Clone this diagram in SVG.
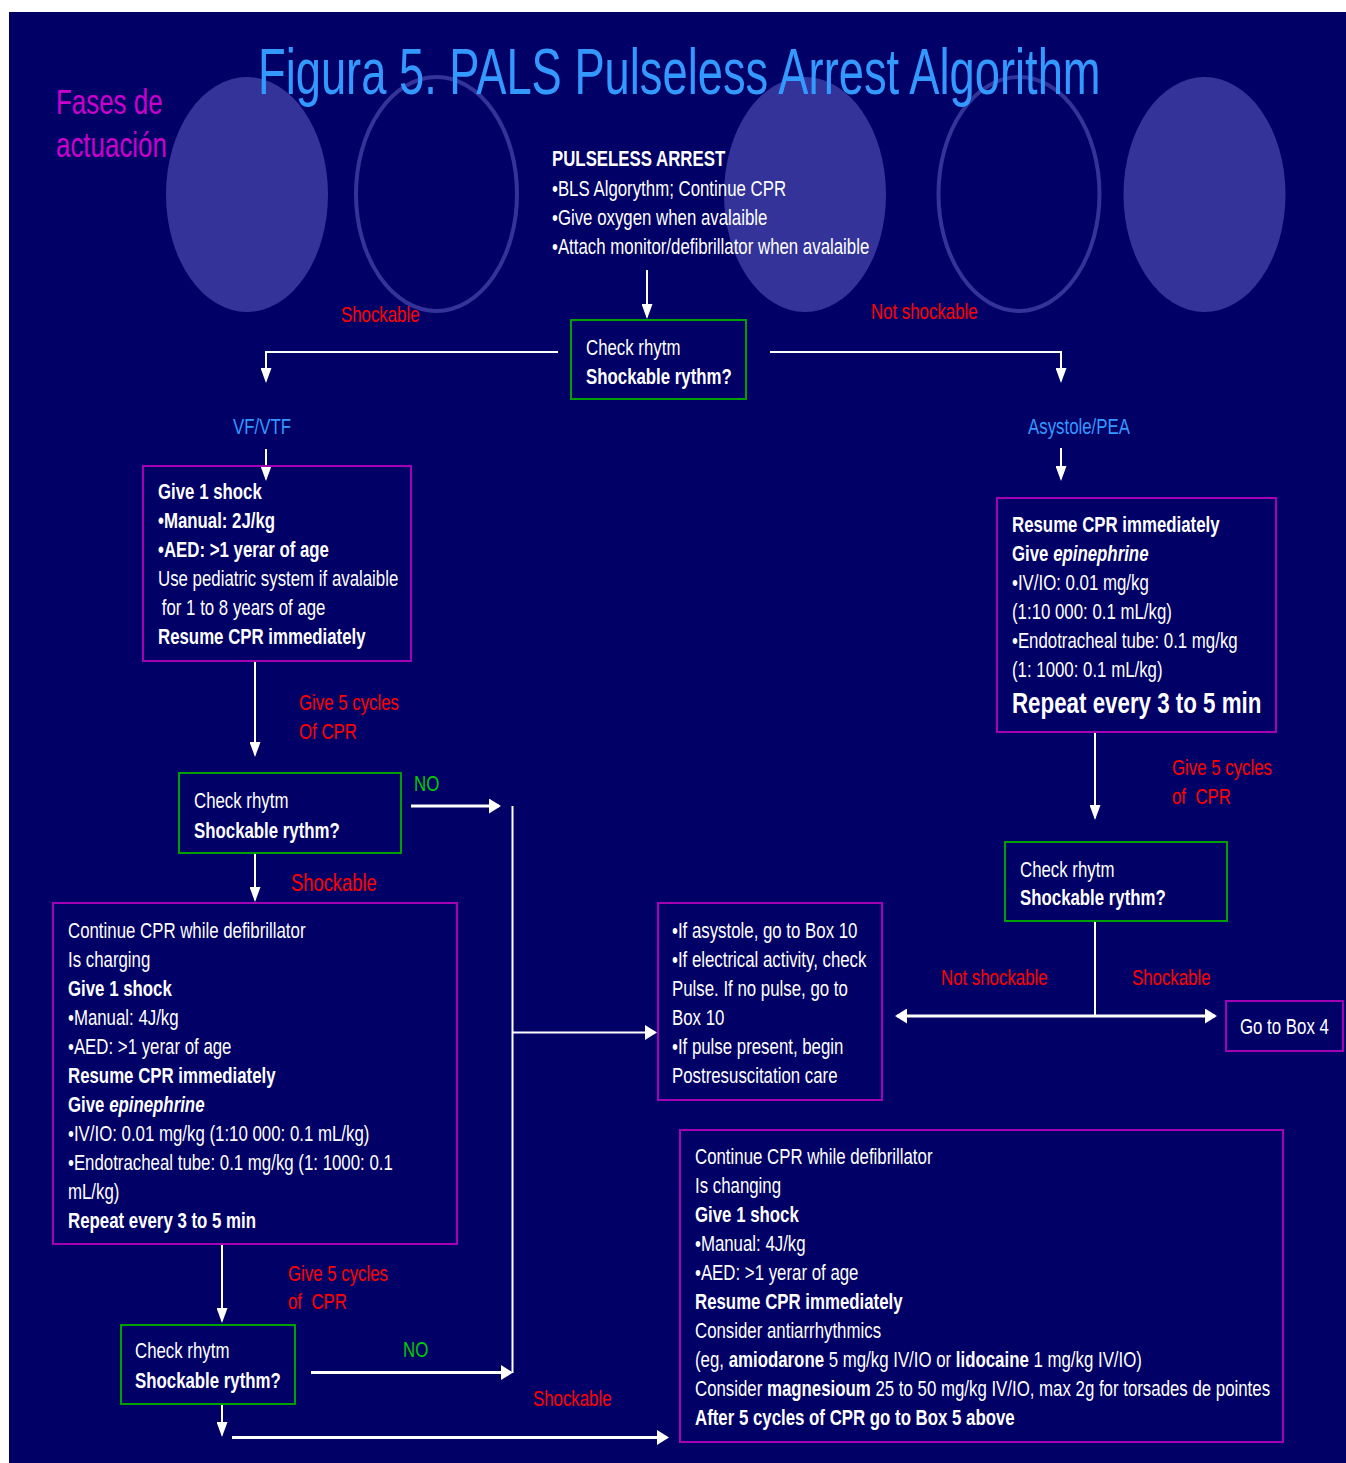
<svg xmlns="http://www.w3.org/2000/svg" width="1346" height="1463" viewBox="0 0 1346 1463">
  <style>
    .t { font-family: "Liberation Sans", Arial, sans-serif; font-size: 22px; fill: #ffffff; }
    .b { font-weight: bold; }
    .i { font-style: italic; }
    .red { fill: #ff0000; }
    .blue { fill: #3399ff; }
    .grn { fill: #00cc00; }
    .box { fill: none; stroke: #a400b4; stroke-width: 2; }
    .chk { fill: none; stroke: #00a000; stroke-width: 2; }
    .ln { fill: none; stroke: #ffffff; stroke-width: 2; }
    .lnb { fill: none; stroke: #ffffff; stroke-width: 3; }
    .phase { fill: #333399; }
    .phase-ring { fill: none; stroke: #333399; stroke-width: 4; }
  </style>
  <defs>
    <marker id="head" markerUnits="userSpaceOnUse" viewBox="0 0 15 11" markerWidth="15" markerHeight="11" refX="13" refY="5.5" orient="auto-start-reverse">
      <path d="M0,0 L15,5.5 L0,11 z" fill="#ffffff"/>
    </marker>
    <marker id="headB" markerUnits="userSpaceOnUse" viewBox="0 0 12 15" markerWidth="12" markerHeight="15" refX="10" refY="7.5" orient="auto-start-reverse">
      <path d="M0,0 L12,7.5 L0,15 z" fill="#ffffff"/>
    </marker>
  </defs>

  <!-- slide background -->
  <rect x="0" y="0" width="1346" height="1463" fill="#ffffff"/>
  <rect x="9" y="12" width="1337" height="1451" fill="#000066"/>

  <!-- phase markers -->
  <g id="phases">
    <ellipse class="phase" cx="247" cy="194.5" rx="81" ry="117.5"/>
    <ellipse class="phase-ring" cx="436.5" cy="194" rx="80.5" ry="117"/>
    <ellipse class="phase" cx="805" cy="194.5" rx="81" ry="117.5"/>
    <ellipse class="phase-ring" cx="1019" cy="194" rx="80.5" ry="117"/>
    <ellipse class="phase" cx="1204.5" cy="194.5" rx="81" ry="117.5"/>
  </g>

  <!-- heading -->
  <g id="title">
    <text class="t blue" transform="translate(258,94) scale(0.697,1)" style="font-size:65px">Figura 5. PALS Pulseless Arrest Algorithm</text>
  </g>
  <g id="phase-label">
    <text class="t" transform="translate(56,114) scale(0.72,1)" style="font-size:36px;fill:#cc00cc">
      <tspan x="0" y="0">Fases de</tspan>
      <tspan x="0" y="43">actuación</tspan>
    </text>
  </g>

  <!-- connectors -->
  <g id="connectors">
    <line class="ln" x1="647" y1="270" x2="647" y2="317" marker-end="url(#head)"/>
    <polyline class="ln" points="558,352 266,352 266,381" marker-end="url(#head)"/>
    <polyline class="ln" points="770,352 1061,352 1061,381" marker-end="url(#head)"/>
    <line class="ln" x1="266" y1="449" x2="266" y2="479" marker-end="url(#head)"/>
    <line class="ln" x1="1061" y1="448" x2="1061" y2="479" marker-end="url(#head)"/>
    <line class="ln" x1="255" y1="661" x2="255" y2="755" marker-end="url(#head)"/>
    <line class="ln" x1="1095" y1="732" x2="1095" y2="818" marker-end="url(#head)"/>
    <line class="ln" x1="255" y1="853" x2="255" y2="900" marker-end="url(#head)"/>
    <line class="lnb" x1="411" y1="806" x2="499" y2="806" marker-end="url(#headB)"/>
    <line class="ln" x1="512.5" y1="806" x2="512.5" y2="1373"/>
    <line class="ln" x1="512" y1="1032.5" x2="655" y2="1032.5" marker-end="url(#headB)"/>
    <line class="ln" x1="1095" y1="921" x2="1095" y2="1016"/>
    <line class="lnb" x1="897" y1="1016" x2="1215" y2="1016" marker-start="url(#headB)" marker-end="url(#headB)"/>
    <line class="ln" x1="222" y1="1244" x2="222" y2="1321" marker-end="url(#head)"/>
    <line class="lnb" x1="311" y1="1372.5" x2="511" y2="1372.5" marker-end="url(#headB)"/>
    <line class="ln" x1="222" y1="1404" x2="222" y2="1435" marker-end="url(#head)"/>
    <line class="lnb" x1="232" y1="1437.5" x2="667" y2="1437.5" marker-end="url(#headB)"/>
  </g>

  <!-- connector labels -->
  <g id="labels">
    <text class="t red" transform="translate(341,322) scale(0.765,1)">Shockable</text>
    <text class="t red" transform="translate(871,319) scale(0.765,1)">Not shockable</text>
    <text class="t blue" transform="translate(233,434) scale(0.765,1)">VF/VTF</text>
    <text class="t blue" transform="translate(1028,434) scale(0.765,1)">Asystole/PEA</text>
    <text class="t red" transform="translate(299,710) scale(0.765,1)"><tspan x="0" y="0">Give 5 cycles</tspan><tspan x="0" y="29">Of CPR</tspan></text>
    <text class="t red" transform="translate(1172,775) scale(0.765,1)"><tspan x="0" y="0">Give 5 cycles</tspan><tspan x="0" y="29">of&#160; CPR</tspan></text>
    <text class="t grn" transform="translate(414,791) scale(0.765,1)">NO</text>
    <text class="t red" transform="translate(291,891) scale(0.765,1)" style="font-size:24px">Shockable</text>
    <text class="t red" transform="translate(941,985) scale(0.765,1)">Not shockable</text>
    <text class="t red" transform="translate(1132,985) scale(0.765,1)">Shockable</text>
    <text class="t red" transform="translate(288,1281) scale(0.765,1)"><tspan x="0" y="0">Give 5 cycles</tspan><tspan x="0" y="28">of&#160; CPR</tspan></text>
    <text class="t grn" transform="translate(403,1357) scale(0.765,1)">NO</text>
    <text class="t red" transform="translate(533,1406) scale(0.765,1)">Shockable</text>
  </g>

  <!-- start: pulseless arrest -->
  <g id="pulseless-arrest">
    <text class="t" transform="translate(552,166) scale(0.765,1)">
      <tspan x="0" y="0" class="b">PULSELESS ARREST</tspan>
      <tspan x="0" y="30">•BLS Algorythm; Continue CPR</tspan>
      <tspan x="0" y="59">•Give oxygen when avalaible</tspan>
      <tspan x="0" y="88">•Attach monitor/defibrillator when avalaible</tspan>
    </text>
  </g>

  <g id="check-rhythm-1">
    <rect class="chk" x="571" y="320" width="175" height="79"/>
    <text class="t" transform="translate(586,355) scale(0.765,1)">
      <tspan x="0" y="0">Check rhytm</tspan>
      <tspan x="0" y="29" class="b">Shockable rythm?</tspan>
    </text>
  </g>

  <g id="give-shock-1">
    <rect class="box" x="143" y="466" width="268" height="195"/>
    <text class="t" transform="translate(158,499) scale(0.765,1)">
      <tspan x="0" y="0" class="b">Give 1 shock</tspan>
      <tspan x="0" y="29" class="b">•Manual: 2J/kg</tspan>
      <tspan x="0" y="58" class="b">•AED: &gt;1 yerar of age</tspan>
      <tspan x="0" y="87">Use pediatric system if avalaible</tspan>
      <tspan x="5" y="116">for 1 to 8 years of age</tspan>
      <tspan x="0" y="145" class="b">Resume CPR immediately</tspan>
    </text>
  </g>

  <g id="epinephrine-asystole">
    <rect class="box" x="997" y="498" width="279" height="234"/>
    <text class="t" transform="translate(1012,532) scale(0.765,1)">
      <tspan x="0" y="0" class="b">Resume CPR immediately</tspan>
      <tspan x="0" y="29" class="b">Give <tspan class="i">epinephrine</tspan></tspan>
      <tspan x="0" y="58">•IV/IO: 0.01 mg/kg</tspan>
      <tspan x="0" y="87">(1:10 000: 0.1 mL/kg)</tspan>
      <tspan x="0" y="116">•Endotracheal tube: 0.1 mg/kg</tspan>
      <tspan x="0" y="145">(1: 1000: 0.1 mL/kg)</tspan>
    </text>
    <text class="t b" transform="translate(1012,713) scale(0.77,1)" style="font-size:29px">Repeat every 3 to 5 min</text>
  </g>

  <g id="check-rhythm-2">
    <rect class="chk" x="179" y="773" width="222" height="80"/>
    <text class="t" transform="translate(194,808) scale(0.765,1)">
      <tspan x="0" y="0">Check rhytm</tspan>
      <tspan x="0" y="30" class="b">Shockable rythm?</tspan>
    </text>
  </g>

  <g id="check-rhythm-right">
    <rect class="chk" x="1005" y="842" width="222" height="79"/>
    <text class="t" transform="translate(1020,877) scale(0.765,1)">
      <tspan x="0" y="0">Check rhytm</tspan>
      <tspan x="0" y="28" class="b">Shockable rythm?</tspan>
    </text>
  </g>

  <g id="give-shock-2">
    <rect class="box" x="53" y="903" width="404" height="341"/>
    <text class="t" transform="translate(68,938) scale(0.765,1)">
      <tspan x="0" y="0">Continue CPR while defibrillator</tspan>
      <tspan x="0" y="29">Is charging</tspan>
      <tspan x="0" y="58" class="b">Give 1 shock</tspan>
      <tspan x="0" y="87">•Manual: 4J/kg</tspan>
      <tspan x="0" y="116">•AED: &gt;1 yerar of age</tspan>
      <tspan x="0" y="145" class="b">Resume CPR immediately</tspan>
      <tspan x="0" y="174" class="b">Give <tspan class="i">epinephrine</tspan></tspan>
      <tspan x="0" y="203">•IV/IO: 0.01 mg/kg (1:10 000: 0.1 mL/kg)</tspan>
      <tspan x="0" y="232">•Endotracheal tube: 0.1 mg/kg (1: 1000: 0.1</tspan>
      <tspan x="0" y="261">mL/kg)</tspan>
      <tspan x="0" y="290" class="b">Repeat every 3 to 5 min</tspan>
    </text>
  </g>

  <g id="asystole-pea-actions">
    <rect class="box" x="658" y="903" width="224" height="197"/>
    <text class="t" transform="translate(672,938) scale(0.765,1)">
      <tspan x="0" y="0">•If asystole, go to Box 10</tspan>
      <tspan x="0" y="29">•If electrical activity, check</tspan>
      <tspan x="0" y="58">Pulse. If no pulse, go to</tspan>
      <tspan x="0" y="87">Box 10</tspan>
      <tspan x="0" y="116">•If pulse present, begin</tspan>
      <tspan x="0" y="145">Postresuscitation care</tspan>
    </text>
  </g>

  <g id="go-to-box-4">
    <rect class="box" x="1226" y="1001" width="117" height="50"/>
    <text class="t" transform="translate(1240,1034) scale(0.765,1)">Go to Box 4</text>
  </g>

  <g id="check-rhythm-3">
    <rect class="chk" x="121" y="1325" width="174" height="79"/>
    <text class="t" transform="translate(135,1358) scale(0.765,1)">
      <tspan x="0" y="0">Check rhytm</tspan>
      <tspan x="0" y="30" class="b">Shockable rythm?</tspan>
    </text>
  </g>

  <g id="antiarrhythmics">
    <rect class="box" x="680" y="1130" width="603" height="312"/>
    <text class="t" transform="translate(695,1164) scale(0.765,1)">
      <tspan x="0" y="0">Continue CPR while defibrillator</tspan>
      <tspan x="0" y="29">Is changing</tspan>
      <tspan x="0" y="58" class="b">Give 1 shock</tspan>
      <tspan x="0" y="87">•Manual: 4J/kg</tspan>
      <tspan x="0" y="116">•AED: &gt;1 yerar of age</tspan>
      <tspan x="0" y="145" class="b">Resume CPR immediately</tspan>
      <tspan x="0" y="174">Consider antiarrhythmics</tspan>
      <tspan x="0" y="203">(eg, <tspan class="b">amiodarone</tspan> 5 mg/kg IV/IO or <tspan class="b">lidocaine</tspan> 1 mg/kg IV/IO)</tspan>
      <tspan x="0" y="232">Consider <tspan class="b">magnesioum</tspan> 25 to 50 mg/kg IV/IO, max 2g for torsades de pointes</tspan>
      <tspan x="0" y="261" class="b">After 5 cycles of CPR go to Box 5 above</tspan>
    </text>
  </g>
</svg>
